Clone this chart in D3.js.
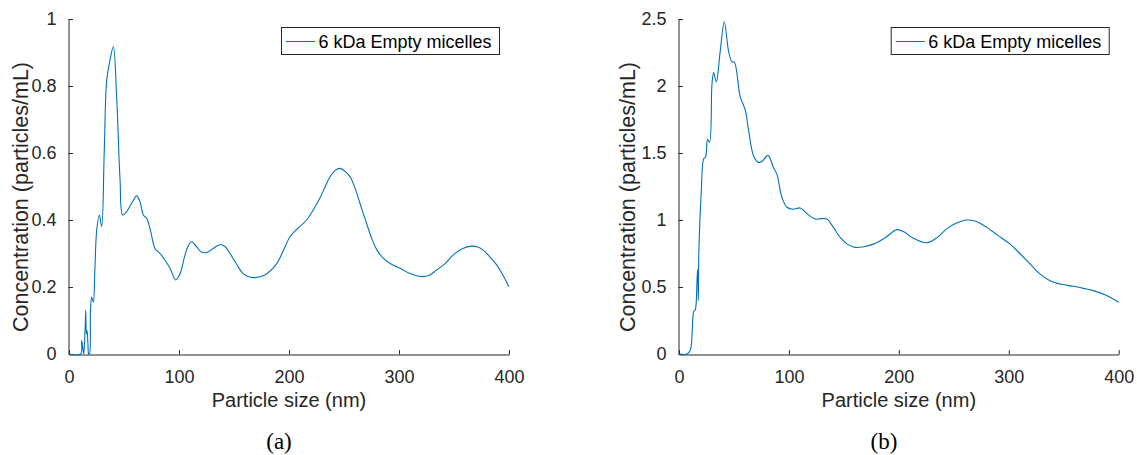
<!DOCTYPE html>
<html>
<head>
<meta charset="utf-8">
<script src="https://cdn.jsdelivr.net/npm/d3@7"></script>
<style>
  body { margin: 0; background: #fff; }
  svg { display: block; }
</style>
</head>
<body>
<div id="chart"></div>
<script>
// particle size (nm) and concentration, panel (a)
const sizeA = [0, 10.5, 11.5, 12.5, 13.4, 14.5, 15.2, 15.8, 16.4, 17.2, 17.9, 18.6, 19.5, 20.6, 22.1, 23.5, 25.2, 27.6, 29.7, 32,
  34.3, 37.3, 40.3, 43.3, 46.4, 48.8, 52.4, 57, 61.5, 64.5, 67.6, 70.6, 74, 78.2, 82.7, 87.3, 92, 97, 101, 105,
  108, 111.5, 116, 120, 125.2, 131, 137.3, 142, 146.4, 152, 158.5, 164, 169, 178, 188.8, 195, 200.9, 208, 216, 222,
  228, 233, 237.3, 242, 246.4, 251, 255.5, 260, 264.5, 270, 275.2, 280, 285.7, 292, 300.9, 310, 320.6, 328, 334.3, 342,
  349.4, 358, 366, 371, 376.6, 382, 388.8, 394, 400]
const concA = [0, 0, 0.04, 0.02, 0, 0.06, 0.13, 0.06, 0.07, 0.03, 0, 0, 0.13, 0.17, 0.155, 0.25, 0.37, 0.415, 0.38, 0.6,
  0.818, 0.878, 0.917, 0.768, 0.52, 0.415, 0.425, 0.45, 0.472, 0.455, 0.415, 0.405, 0.37, 0.315, 0.3, 0.28, 0.255, 0.221, 0.24, 0.29,
  0.32, 0.335, 0.32, 0.305, 0.303, 0.315, 0.327, 0.32, 0.3, 0.27, 0.239, 0.23, 0.228, 0.236, 0.27, 0.31, 0.35, 0.375, 0.4, 0.43,
  0.465, 0.5, 0.529, 0.548, 0.554, 0.545, 0.529, 0.495, 0.45, 0.395, 0.345, 0.31, 0.286, 0.27, 0.256, 0.24, 0.231, 0.236, 0.251, 0.27,
  0.296, 0.315, 0.322, 0.32, 0.31, 0.292, 0.266, 0.238, 0.201]

// panel (b)
const sizeB = [0, 7.3, 10.3, 12.1, 13.3, 14.8, 16.4, 17.0, 17.6, 17.9, 18.7, 20.3, 22.4, 24.2, 26, 27.8, 30, 31.5, 33.9, 37.5,
  41.2, 45.1, 48.2, 50.3, 55.7, 60.3, 63.3, 67.8, 72.4, 76, 80, 81.5, 86, 89.1, 93.6, 98.2, 104, 110.3, 116, 123.9,
  129, 134.5, 140, 146.6, 153, 160.3, 168, 176.9, 188, 198.2, 205, 212, 225.5, 235, 243.6, 252, 261.8, 270, 280, 290,
  301.2, 310, 319.4, 328, 337.5, 348, 358.7, 368, 376.9, 388, 400]
const concB = [0, 0, 0.03, 0.18, 0.315, 0.33, 0.55, 0.63, 0.4, 0.7, 0.93, 1.22, 1.455, 1.47, 1.6, 1.58, 2.015, 2.1, 2.03, 2.26,
  2.48, 2.26, 2.18, 2.18, 1.92, 1.82, 1.67, 1.48, 1.43, 1.44, 1.48, 1.48, 1.39, 1.34, 1.17, 1.095, 1.08, 1.09, 1.05, 1.007,
  1.01, 1.007, 0.95, 0.87, 0.82, 0.796, 0.8, 0.82, 0.87, 0.928, 0.91, 0.87, 0.83, 0.87, 0.934, 0.975, 1.0, 0.99, 0.945, 0.885,
  0.82, 0.75, 0.672, 0.6, 0.547, 0.52, 0.505, 0.49, 0.473, 0.44, 0.386]

const xTicks = [0, 100, 200, 300, 400]
const yTicksA = [0, 0.2, 0.4, 0.6, 0.8, 1]
const yTicksB = [0, 0.5, 1, 1.5, 2, 2.5]
const seriesName = '6 kDa Empty micelles'
const captions = ['(a)', '(b)']

const w = 1137
const h = 455
const axisColor = '#262626'
const lineColor = '#0072BD'
const font = '"Liberation Sans", Arial, Helvetica, sans-serif'

const svg = d3.select('#chart')
  .append('svg')
  .attr('width', w)
  .attr('height', h)

function drawPanel(opt) {
  const xScale = d3.scaleLinear().domain([0, 400]).range([opt.left, opt.right])
  const yScale = d3.scaleLinear().domain([0, opt.yMax]).range([354, 19])
  const g = svg.append('g')

  // x axis, ticks pointing inward
  const xAxis = d3.axisBottom(xScale).tickValues(xTicks).tickSizeInner(-4.4).tickSizeOuter(0).tickPadding(16)
  const gx = g.append('g')
    .attr('transform', 'translate(0,354.5)')
    .call(xAxis)
  gx.select('.domain').attr('stroke', axisColor)
  gx.selectAll('line').attr('stroke', axisColor)
  gx.selectAll('text')
    .attr('font-family', font)
    .attr('font-size', 18)
    .attr('fill', axisColor)

  const yAxis = d3.axisLeft(yScale).tickValues(opt.yTicks).tickFormat(d3.format('~g'))
    .tickSizeInner(-4.4).tickSizeOuter(0).tickPadding(12)
  const gy = g.append('g')
    .attr('transform', 'translate(' + (opt.left - 0.5) + ',0)')
    .call(yAxis)
  gy.select('.domain').attr('stroke', axisColor)
  gy.selectAll('line').attr('stroke', axisColor)
  gy.selectAll('text')
    .attr('font-family', font)
    .attr('font-size', 18)
    .attr('fill', axisColor)

  const line = d3.line()
    .x((d, i) => xScale(opt.xs[i]))
    .y(d => Math.min(yScale(d), 354))
    .curve(d3.curveCatmullRom.alpha(0.5))

  g.append('path')
    .datum(opt.ys)
    .attr('d', line)
    .attr('fill', 'none')
    .attr('stroke', lineColor)
    .attr('stroke-width', 1.1)

  g.append('text')
    .attr('x', (opt.left + opt.right) / 2)
    .attr('y', 407)
    .attr('text-anchor', 'middle')
    .attr('font-family', font)
    .attr('font-size', 20)
    .attr('fill', axisColor)
    .text('Particle size (nm)')

  g.append('text')
    .attr('transform', 'translate(' + (opt.yLabelX) + ',197) rotate(-90)')
    .attr('text-anchor', 'middle')
    .attr('font-family', font)
    .attr('font-size', 21.5)
    .attr('fill', axisColor)
    .text('Concentration (particles/mL)')

  // legend
  const lx = opt.right - 227.5
  g.append('rect')
    .attr('x', lx)
    .attr('y', 27.5)
    .attr('width', 218)
    .attr('height', 27)
    .attr('fill', '#fff')
    .attr('stroke', axisColor)
    .attr('stroke-width', 1)
  g.append('line')
    .attr('x1', lx + 4.5).attr('x2', lx + 33.5)
    .attr('y1', 41.5).attr('y2', 41.5)
    .attr('stroke', lineColor)
    .attr('stroke-width', 1.1)
  g.append('text')
    .attr('x', lx + 37)
    .attr('y', 48)
    .attr('font-family', font)
    .attr('font-size', 18)
    .attr('fill', '#000')
    .text(seriesName)

  g.append('text')
    .attr('x', opt.capX)
    .attr('y', 449)
    .attr('text-anchor', 'middle')
    .attr('font-family', '"Liberation Serif", "DejaVu Serif", serif')
    .attr('font-size', 23)
    .attr('fill', '#000')
    .text(opt.caption)
}

drawPanel({ left: 69, right: 509, yMax: 1, yTicks: yTicksA, xs: sizeA, ys: concA, yLabelX: 28, capX: 279, caption: captions[0] })
drawPanel({ left: 679, right: 1118.7, yMax: 2.5, yTicks: yTicksB, xs: sizeB, ys: concB, yLabelX: 635, capX: 884, caption: captions[1] })
</script>
</body>
</html>
